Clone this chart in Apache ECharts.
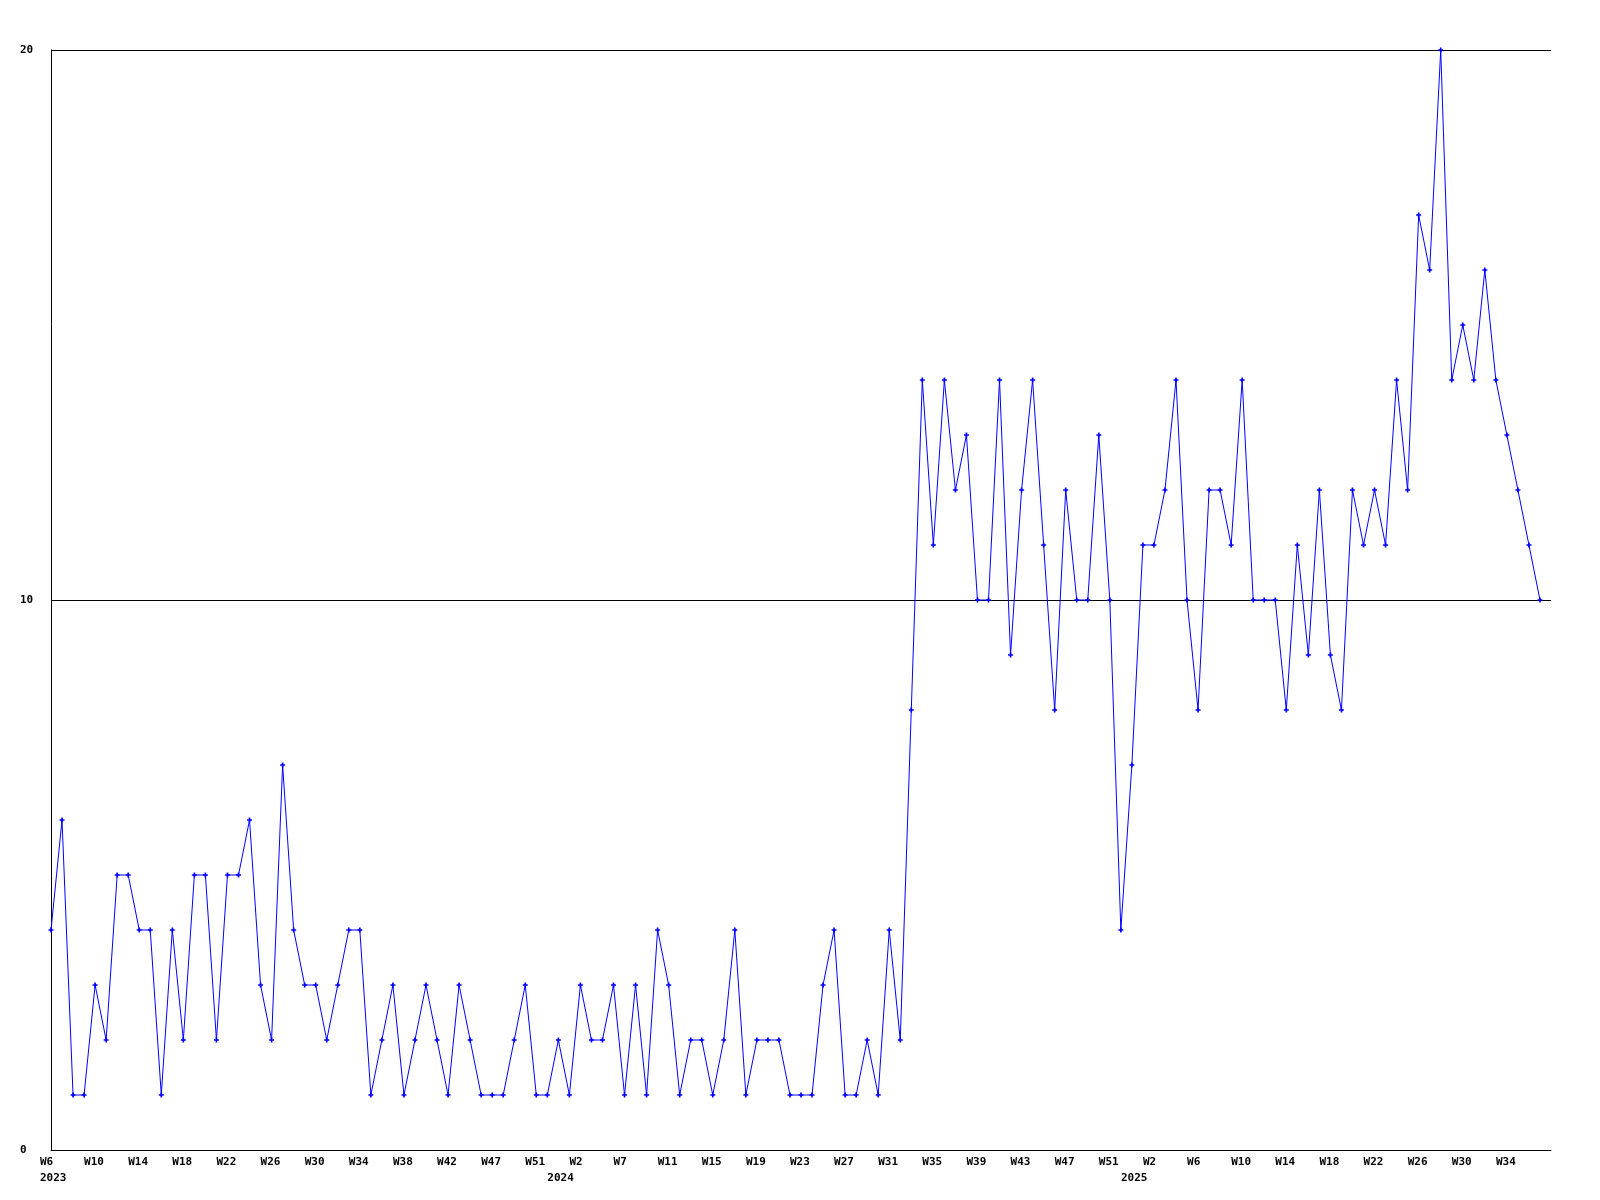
<!DOCTYPE html>
<html>
<head>
<meta charset="utf-8">
<script src="https://cdn.jsdelivr.net/npm/echarts@6/dist/echarts.min.js"></script>
<style>
html,body{margin:0;padding:0;background:#fff;}
#chart{width:1600px;height:1200px;}
</style>
</head>
<body>
<div id="chart"></div>
<script>
// Weekly values, 2023 W6 .. 2025 W37 (136 points)
const values = [
  4, 6, 1, 1, 3, 2, 5, 5, 4, 4, 1, 4, 2, 5, 5, 2, 5, 5, 6, 3,
  2, 7, 4, 3, 3, 2, 3, 4, 4, 1, 2, 3, 1, 2, 3, 2, 1, 3, 2, 1,
  1, 1, 2, 3, 1, 1, 2, 1, 3, 2, 2, 3, 1, 3, 1, 4, 3, 1, 2, 2,
  1, 2, 4, 1, 2, 2, 2, 1, 1, 1, 3, 4, 1, 1, 2, 1, 4, 2, 8, 14,
  11, 14, 12, 13, 10, 10, 14, 9, 12, 14, 11, 8, 12, 10, 10, 13, 10, 4, 7, 11,
  11, 12, 14, 10, 8, 12, 12, 11, 14, 10, 10, 10, 8, 11, 9, 12, 9, 8, 12, 11,
  12, 11, 14, 12, 17, 16, 20, 14, 15, 14, 16, 14, 13, 12, 11, 10
];
// Tick labels shown every 4th week
const tickLabels = [
  'W6', 'W10', 'W14', 'W18', 'W22', 'W26', 'W30', 'W34', 'W38', 'W42', 'W47', 'W51',
  'W2', 'W7', 'W11', 'W15', 'W19', 'W23', 'W27', 'W31', 'W35', 'W39', 'W43', 'W47', 'W51',
  'W2', 'W6', 'W10', 'W14', 'W18', 'W22', 'W26', 'W30', 'W34'
];
const yearNames = ['2023', '2024', '2025'];
const yearStartIdx = [0, 46, 98];
const yTicks = [0, 10, 20];

// one extra (empty) slot after the last week, as the axis runs a little past the data
const categories = values.map((_, i) => String(i)).concat(['']);
const tickEvery = 4;

function labelFor(i) {
  let s = '';
  if (i % tickEvery === 0) s += tickLabels[i / tickEvery] || '';
  const y = yearStartIdx.indexOf(i);
  if (y >= 0) s += '\n' + yearNames[y];
  return s;
}

const chart = echarts.init(document.getElementById('chart'), null, {renderer: 'canvas'});
const fontFam = '"DejaVu Sans Mono", monospace';
chart.setOption({
  animation: false,
  backgroundColor: '#ffffff',
  grid: [
    {left: 51, right: 49, top: 50, bottom: 50, containLabel: false, outerBoundsMode: 'none'},
    {left: 40, right: 60, top: 50, bottom: 50, containLabel: false, outerBoundsMode: 'none'}
  ],
  xAxis: [
    {
      type: 'category', gridIndex: 0, data: categories, boundaryGap: false,
      axisLine: {show: true, lineStyle: {color: '#000', width: 1}},
      axisTick: {show: false}, axisLabel: {show: false}, splitLine: {show: false}
    },
    {
      type: 'category', gridIndex: 1, data: categories, boundaryGap: false,
      axisLine: {show: false}, axisTick: {show: false}, splitLine: {show: false},
      axisLabel: {
        show: true, align: 'left', margin: 4,
        interval: (i) => (i % tickEvery === 0 && i < values.length) || yearStartIdx.indexOf(i) >= 0,
        formatter: (v, i) => labelFor(i),
        fontFamily: fontFam, fontSize: 11, fontWeight: 'bold', color: '#000', lineHeight: 16
      }
    }
  ],
  yAxis: [
    {
      type: 'value', gridIndex: 0, min: yTicks[0], max: yTicks[yTicks.length - 1], interval: 10,
      axisLine: {show: true, lineStyle: {color: '#000', width: 1}},
      axisTick: {show: false},
      splitLine: {show: true, lineStyle: {color: '#000', width: 1}},
      axisLabel: {
        show: true, align: 'left', margin: 31, padding: [5, 0, 0, 0],
        fontFamily: fontFam, fontSize: 11, fontWeight: 'bold', color: '#000'
      }
    },
    {
      type: 'value', gridIndex: 1, min: 0, max: 20, show: false
    }
  ],
  series: [{
    type: 'line', xAxisIndex: 0, yAxisIndex: 0, data: values,
    showSymbol: true, showAllSymbol: true,
    symbol: 'path://M1,0H2V1H3V2H2V3H1V2H0V1H1Z', symbolSize: 5,
    lineStyle: {color: '#0000ff', width: 1},
    itemStyle: {color: '#0000ff'},
    emphasis: {disabled: true}
  }]
});
</script>
</body>
</html>
